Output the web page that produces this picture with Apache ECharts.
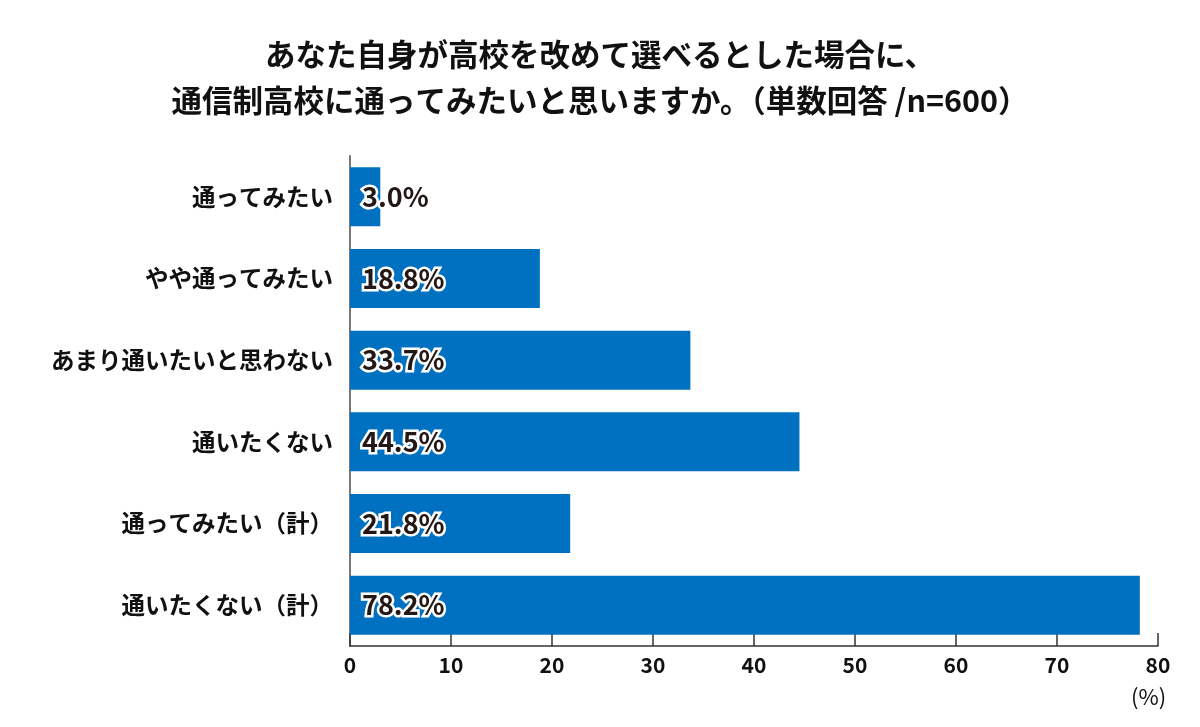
<!DOCTYPE html>
<html><head><meta charset="utf-8">
<script src="https://cdn.jsdelivr.net/npm/echarts@6/dist/echarts.min.js"></script>
<style>html,body{margin:0;padding:0;background:#fff}#c{width:1200px;height:727px}</style>
</head><body><div id="c"></div>
<script>
const titleLines = ['あなた自身が高校を改めて選べるとした場合に、', '通信制高校に通ってみたいと思いますか。（単数回答 /n=600）'];
const categories = ['通ってみたい', 'やや通ってみたい', 'あまり通いたいと思わない', '通いたくない', '通ってみたい（計）', '通いたくない（計）'];
const values = [3.0, 18.8, 33.7, 44.5, 21.8, 78.2];
const xTicks = [0, 10, 20, 30, 40, 50, 60, 70, 80];
const unitLabel = '(%)';

const chart = echarts.init(document.getElementById('c'));
const font = '"Noto Sans CJK JP", "Noto Sans", sans-serif';
chart.setOption({
  animation: false,
  title: {
    text: titleLines.join('\n'),
    left: 'center', top: 26,
    textStyle: { fontFamily: font, fontSize: 30.5, fontWeight: 'bold', color: '#111', lineHeight: 46 }
  },
  grid: { left: 350, right: 42, top: 156, bottom: 81, containLabel: false },
  xAxis: {
    type: 'value', min: xTicks[0], max: xTicks[xTicks.length - 1], interval: 10,
    axisLine: { show: true, lineStyle: { color: '#333', width: 1.5 } },
    axisTick: { show: true, inside: true, length: 13, lineStyle: { color: '#333', width: 1.5 } },
    splitLine: { show: false },
    axisLabel: { fontFamily: font, fontSize: 21, fontWeight: 'bold', color: '#111', margin: 9 }
  },
  yAxis: {
    type: 'category', data: categories, inverse: true,
    axisLine: { show: true, lineStyle: { color: '#777', width: 2 } },
    axisTick: { show: false },
    axisLabel: { fontFamily: font, fontSize: 23.5, fontWeight: 'bold', color: '#111', margin: 17 }
  },
  graphic: [{
    type: 'text', left: 1131, top: 686,
    style: { text: unitLabel, fontFamily: font, fontSize: 22, fill: '#111' }
  }],
  series: [{
    type: 'bar', data: values, barWidth: 59,
    itemStyle: { color: '#0070c0' },
    label: {
      show: true, position: 'insideLeft', distance: 12,
      formatter: p => p.value.toFixed(1) + '%',
      fontFamily: font, fontSize: 27, fontWeight: 'bold', color: '#231815',
      textBorderColor: '#fff', textBorderWidth: 5
    }
  }]
});
</script></body></html>
